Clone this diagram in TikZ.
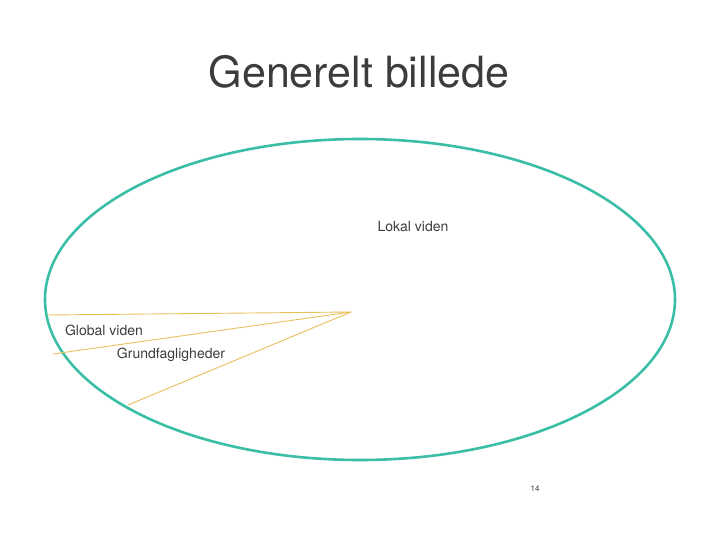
\documentclass[tikz,border=0pt]{standalone}
\usepackage{fontspec}
\setmainfont{TeX Gyre Heros}
\definecolor{ringteal}{RGB}{58,190,166}
\definecolor{rayyellow}{RGB}{232,192,90}
\definecolor{textgray}{RGB}{60,60,60}
\tikzset{
  label/.style={text=textgray, font=\fontsize{14}{16}\selectfont, inner sep=0pt},
  ray/.style={rayyellow, line width=0.9pt}
}
\begin{document}
\begin{tikzpicture}[x=1pt, y=-1pt]
      \useasboundingbox (0,0) rectangle (720,540);
      \node[text=textgray, font=\fontsize{43}{47}\selectfont, inner sep=0pt] (title) at (359,72) {Generelt billede};
      \draw[ringteal, line width=2.6pt] (360,299.5) ellipse [x radius=315, y radius=160.5];
      \draw
        (351,312) coordinate (c)
        (47,315) coordinate (g)
        (53,354) coordinate (f)
        (128,405) coordinate (l);
      \begin{scope}[ray]
        \draw (c) to (g);
        \draw (c) to (f);
        \draw (c) to (l);
      \end{scope}
      \node[label] (lokal) at (413,227) {Lokal viden};
      \node[label] (global) at (104,330) {Global viden};
      \node[label] (grund) at (171,355) {Grundfagligheder};
      \node[text=textgray, font=\fontsize{8}{9}\selectfont, inner sep=0pt] (page) at (535,489) {14};
    \end{tikzpicture}
\end{document}
